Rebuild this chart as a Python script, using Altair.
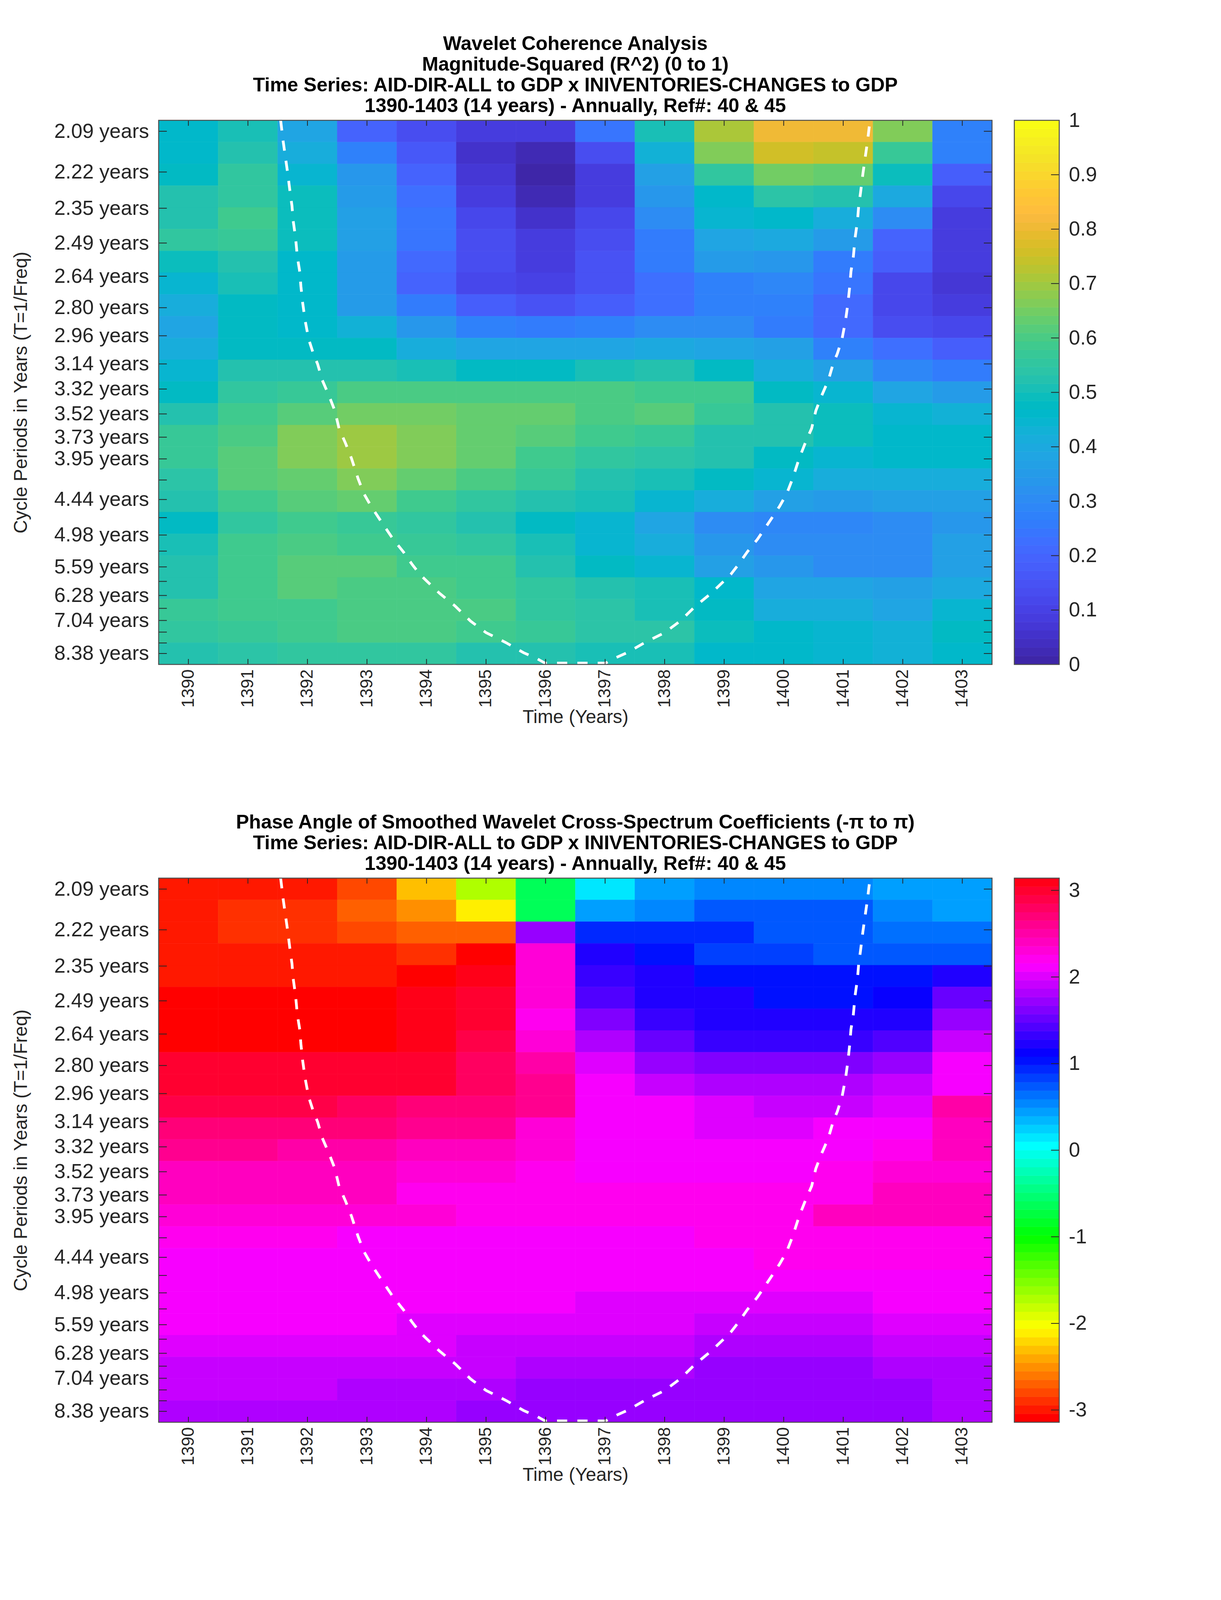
import colorsys
import math
import numpy as np
import pandas as pd
import altair as alt

years = list(range(1390, 1404))
tick_periods = [2.09, 2.22, 2.35, 2.49, 2.64, 2.80, 2.96, 3.14, 3.32, 3.52, 3.73, 3.95, 4.19, 4.44,
                4.70, 4.98, 5.27, 5.59, 5.92, 6.28, 6.65, 7.04, 7.46, 7.90, 8.38]
unlabeled = ["4.19", "4.70", "5.27", "5.92", "6.65", "7.46", "7.90"]

rsq_rows = [
    [.46, .50, .38, .20, .13, .08, .08, .24, .50, .71, .81, .81, .67, .28],
    [.46, .53, .41, .28, .17, .06, .02, .13, .43, .66, .75, .74, .57, .28],
    [.48, .55, .45, .33, .19, .07, .01, .08, .37, .56, .65, .64, .49, .18],
    [.52, .56, .49, .35, .23, .08, .02, .09, .33, .46, .54, .52, .40, .11],
    [.53, .59, .49, .36, .24, .12, .05, .11, .31, .44, .46, .41, .30, .09],
    [.55, .57, .49, .36, .24, .13, .08, .14, .26, .39, .40, .35, .20, .08],
    [.49, .53, .46, .35, .21, .13, .09, .15, .26, .35, .34, .26, .18, .08],
    [.45, .50, .46, .35, .20, .12, .10, .15, .23, .28, .29, .24, .12, .07],
    [.41, .47, .46, .35, .25, .18, .15, .18, .23, .27, .27, .21, .11, .09],
    [.39, .47, .46, .43, .33, .27, .26, .28, .30, .31, .26, .21, .13, .11],
    [.41, .47, .47, .47, .42, .38, .38, .38, .40, .38, .36, .28, .22, .18],
    [.44, .52, .53, .53, .51, .48, .48, .51, .52, .47, .42, .36, .29, .26],
    [.47, .56, .57, .60, .60, .60, .60, .60, .58, .58, .48, .45, .39, .35],
    [.53, .58, .62, .65, .65, .63, .63, .60, .62, .57, .52, .49, .45, .43],
    [.57, .60, .67, .69, .67, .64, .61, .58, .57, .53, .52, .49, .46, .46],
    [.57, .62, .67, .69, .67, .64, .59, .55, .54, .52, .48, .45, .46, .46],
    [.54, .61, .64, .66, .64, .60, .57, .53, .51, .47, .44, .42, .41, .41],
    [.53, .59, .61, .63, .59, .56, .53, .50, .45, .41, .36, .35, .36, .37],
    [.48, .56, .58, .57, .56, .52, .48, .45, .38, .31, .29, .29, .30, .33],
    [.51, .58, .60, .58, .57, .55, .50, .45, .42, .34, .31, .30, .30, .36],
    [.52, .58, .61, .62, .59, .58, .52, .48, .45, .37, .34, .31, .31, .37],
    [.53, .59, .61, .60, .60, .58, .55, .52, .50, .46, .38, .38, .37, .40],
    [.57, .58, .59, .60, .60, .60, .56, .54, .50, .47, .42, .41, .39, .44],
    [.56, .57, .58, .60, .60, .58, .57, .54, .54, .49, .46, .44, .43, .47],
    [.53, .54, .55, .55, .55, .53, .53, .51, .50, .46, .46, .44, .43, .46],
]

phase_rows = [
    [-3.04, -3.04, -3.04, -2.80, -2.35, -1.72, -.63, .12, .44, .57, .57, .57, .44, .44],
    [-3.04, -2.90, -2.90, -2.71, -2.55, -2.15, -.63, .40, .52, .69, .69, .69, .57, .44],
    [-3.04, -2.90, -2.90, -2.80, -2.71, -2.71, 1.75, .90, .90, .90, .78, .78, .65, .65],
    [-3.04, -3.04, -3.04, -3.04, -2.90, -3.10, 2.28, 1.18, 1.00, .85, .85, .78, .78, .78],
    [-3.04, -3.04, -3.04, -3.04, -3.10, 3.10, 2.28, 1.31, 1.18, 1.05, 1.00, 1.00, 1.00, 1.18],
    [-3.10, -3.10, -3.10, -3.10, 3.10, 3.00, 2.31, 1.42, 1.25, 1.18, 1.05, 1.05, 1.13, 1.52],
    [-3.10, -3.10, -3.10, -3.10, 3.10, 3.00, 2.21, 1.62, 1.33, 1.25, 1.25, 1.25, 1.25, 1.72],
    [-3.10, -3.10, -3.10, -3.10, 3.10, 2.90, 2.31, 1.82, 1.52, 1.33, 1.33, 1.33, 1.42, 1.91],
    [3.00, 3.00, 3.00, 3.00, 3.00, 2.80, 2.50, 2.01, 1.72, 1.62, 1.62, 1.62, 1.72, 2.11],
    [3.00, 3.00, 3.00, 3.00, 3.00, 2.80, 2.60, 2.11, 1.91, 1.82, 1.82, 1.82, 1.91, 2.11],
    [2.90, 2.90, 2.90, 2.80, 2.70, 2.70, 2.60, 2.11, 2.11, 2.01, 1.91, 1.91, 2.01, 2.50],
    [2.70, 2.70, 2.70, 2.70, 2.60, 2.60, 2.31, 2.11, 2.11, 2.01, 2.01, 2.11, 2.11, 2.40],
    [2.60, 2.60, 2.50, 2.50, 2.40, 2.40, 2.31, 2.11, 2.11, 2.11, 2.11, 2.11, 2.21, 2.40],
    [2.40, 2.40, 2.40, 2.40, 2.31, 2.31, 2.21, 2.11, 2.11, 2.11, 2.11, 2.21, 2.31, 2.31],
    [2.40, 2.40, 2.40, 2.40, 2.21, 2.21, 2.21, 2.21, 2.21, 2.21, 2.21, 2.21, 2.40, 2.40],
    [2.31, 2.31, 2.31, 2.31, 2.31, 2.21, 2.21, 2.21, 2.21, 2.21, 2.21, 2.40, 2.40, 2.40],
    [2.21, 2.21, 2.21, 2.11, 2.11, 2.11, 2.11, 2.11, 2.11, 2.21, 2.21, 2.21, 2.21, 2.21],
    [2.11, 2.11, 2.11, 2.11, 2.11, 2.11, 2.11, 2.11, 2.11, 2.11, 2.21, 2.21, 2.21, 2.21],
    [2.11, 2.11, 2.11, 2.11, 2.11, 2.11, 2.11, 2.11, 2.11, 2.11, 2.11, 2.11, 2.11, 2.11],
    [2.11, 2.11, 2.11, 2.11, 2.11, 2.11, 2.11, 2.01, 2.01, 2.01, 2.01, 2.01, 2.11, 2.11],
    [2.11, 2.11, 2.11, 2.11, 2.01, 2.01, 2.01, 2.01, 2.01, 1.91, 1.91, 1.91, 2.01, 2.01],
    [2.01, 2.01, 2.01, 2.01, 2.01, 1.91, 1.91, 1.91, 1.91, 1.82, 1.82, 1.82, 1.91, 1.91],
    [1.91, 1.91, 1.91, 1.91, 1.91, 1.91, 1.82, 1.82, 1.82, 1.72, 1.72, 1.72, 1.82, 1.82],
    [1.91, 1.91, 1.91, 1.82, 1.82, 1.82, 1.72, 1.72, 1.72, 1.72, 1.72, 1.72, 1.72, 1.82],
    [1.82, 1.82, 1.82, 1.82, 1.82, 1.72, 1.72, 1.72, 1.72, 1.72, 1.72, 1.72, 1.72, 1.82],
]

coi_year = [1391.55, 1391.59, 1391.63, 1391.67, 1391.71, 1391.74, 1391.76, 1391.80, 1391.83, 1391.87,
            1391.89, 1391.92, 1391.96, 1392.02, 1392.10, 1392.17, 1392.25, 1392.36, 1392.46, 1392.53,
            1392.64, 1392.74, 1392.85, 1392.95, 1393.07, 1393.24, 1393.44, 1393.61, 1393.76, 1393.89,
            1394.00, 1394.22, 1394.48, 1394.74, 1395.00, 1395.33, 1395.63, 1395.86, 1395.99,
            1397.01, 1397.14, 1397.37, 1397.67, 1398.00, 1398.26, 1398.52, 1398.78, 1399.00, 1399.11,
            1399.24, 1399.39, 1399.56, 1399.76, 1399.93, 1400.05, 1400.15, 1400.26, 1400.36, 1400.47,
            1400.54, 1400.64, 1400.75, 1400.83, 1400.90, 1400.98, 1401.04, 1401.08, 1401.11, 1401.13,
            1401.17, 1401.20, 1401.24, 1401.26, 1401.29, 1401.33, 1401.37, 1401.41, 1401.45]
coi_period = [2.058, 2.118, 2.171, 2.227, 2.294, 2.341, 2.398, 2.467, 2.550, 2.618,
              2.689, 2.775, 2.869, 2.980, 3.073, 3.14, 3.255, 3.369, 3.493, 3.647,
              3.79, 3.945, 4.173, 4.365, 4.535, 4.762, 5.053, 5.283, 5.54, 5.757,
              5.907, 6.223, 6.579, 7.062, 7.48, 7.88, 8.34, 8.643, 8.87,
              8.87, 8.643, 8.34, 7.88, 7.48, 7.062, 6.579, 6.223, 5.907, 5.757,
              5.54, 5.283, 5.053, 4.762, 4.535, 4.365, 4.173, 3.945, 3.79, 3.647,
              3.493, 3.369, 3.255, 3.14, 3.073, 2.980, 2.869, 2.775, 2.689, 2.618,
              2.550, 2.467, 2.398, 2.341, 2.294, 2.227, 2.171, 2.118, 2.058]

parula = [
    (.2422, .1504, .6603), (.2504, .1650, .7076), (.2578, .1818, .7511), (.2647, .1978, .7952),
    (.2706, .2147, .8364), (.2751, .2342, .8710), (.2783, .2559, .8991), (.2803, .2782, .9221),
    (.2813, .3006, .9414), (.2810, .3228, .9579), (.2795, .3447, .9717), (.2760, .3667, .9829),
    (.2699, .3892, .9906), (.2602, .4123, .9952), (.2440, .4358, .9988), (.2206, .4603, .9973),
    (.1963, .4847, .9892), (.1834, .5074, .9798), (.1786, .5289, .9682), (.1764, .5499, .9520),
    (.1687, .5703, .9359), (.1540, .5902, .9218), (.1460, .6091, .9079), (.1380, .6276, .8973),
    (.1248, .6459, .8883), (.1113, .6635, .8763), (.0952, .6798, .8598), (.0689, .6948, .8394),
    (.0297, .7082, .8163), (.0036, .7203, .7917), (.0067, .7312, .7660), (.0433, .7411, .7394),
    (.0964, .7500, .7120), (.1408, .7584, .6842), (.1717, .7670, .6554), (.1938, .7758, .6251),
    (.2161, .7843, .5923), (.2470, .7918, .5567), (.2906, .7973, .5188), (.3406, .8008, .4789),
    (.3909, .8029, .4354), (.4456, .8024, .3909), (.5044, .7993, .3480), (.5616, .7942, .3045),
    (.6174, .7876, .2612), (.6720, .7793, .2227), (.7242, .7698, .1910), (.7738, .7598, .1646),
    (.8203, .7498, .1535), (.8634, .7406, .1596), (.9035, .7330, .1774), (.9393, .7288, .2100),
    (.9728, .7298, .2394), (.9956, .7434, .2371), (.9970, .7659, .2199), (.9952, .7861, .1991),
    (.9892, .8136, .1885), (.9786, .8386, .1766), (.9676, .8639, .1643), (.9610, .8890, .1537),
    (.9597, .9135, .1423), (.9628, .9373, .1265), (.9691, .9606, .1064), (.9769, .9839, .0805),
]


def to_hex(rgb):
    return "#%02x%02x%02x" % tuple(int(round(c * 255)) for c in rgb)


parula_hex = [to_hex(c) for c in parula]
hsv_hex = [to_hex(colorsys.hsv_to_rgb(i / 64, 1, 1)) for i in range(64)]

W, H = 2133, 1393
CB_W = 115
TICK_X = 14
TICK_Y = 21
F_TOP, F_BOTTOM = 0.4860, 0.1118
FONT = "Liberation Sans"
INK = "#262626"
FRAME = "#4d4d4d"
XTICK_FS = 44
YTICK_FS = 52
LABEL_FS = 48
TITLE_FS = 50

row_edges = np.linspace(F_TOP, F_BOTTOM, 26)
tick_freqs = [1 / t for t in tick_periods]
years_df = pd.DataFrame({"year": years})
freqs_df = pd.DataFrame({"f": tick_freqs})
coi_df = pd.DataFrame({"year": coi_year, "f": [1 / t for t in coi_period], "i": range(len(coi_year))})
ylab = ("indexof(%s, format(1/datum.value,'.2f')) < 0 ? format(1/datum.value,'.2f') + ' years' : ''"
        % str(unlabeled))

xscale = alt.Scale(domain=[1389.5, 1403.5], nice=False, zero=False)
yscale = alt.Scale(domain=[F_BOTTOM, F_TOP], nice=False, zero=False)


def frame(w):
    return alt.Chart(pd.DataFrame({"a": [0]})).mark_rect(
        fillOpacity=0, stroke=FRAME, strokeWidth=2.5
    ).encode(x=alt.value(0), x2=alt.value(w), y=alt.value(0), y2=alt.value(H))


def panel(rows, cscale, title, cbar_ticks, cdomain):
    recs = []
    for r, row in enumerate(rows):
        for c, v in enumerate(row):
            recs.append({"x0": years[c] - .5, "x1": years[c] + .5,
                         "y0": row_edges[r + 1], "y1": row_edges[r], "v": v})
    cells = alt.Chart(pd.DataFrame(recs)).mark_rect(strokeWidth=0.6).encode(
        x=alt.X("x0:Q", scale=xscale, title="Time (Years)", axis=alt.Axis(
            values=years, labelExpr="'' + datum.value", labelAngle=270, tickSize=0, domain=False, grid=False,
            labelPadding=12, labelFontSize=XTICK_FS, labelFont=FONT, labelColor=INK, labelOverlap=False,
            labelLimit=500, maxExtent=500, titleFontSize=LABEL_FS, titleFont=FONT, titleFontWeight="normal",
            titleColor=INK, titlePadding=2)),
        x2="x1:Q",
        y=alt.Y("y0:Q", scale=yscale, title="Cycle Periods in Years (T=1/Freq)", axis=alt.Axis(
            values=tick_freqs, labelExpr=ylab, tickSize=0, domain=False, grid=False,
            labelPadding=25, labelFontSize=YTICK_FS, labelFont=FONT, labelColor=INK, labelOverlap=False,
            labelBound=False, labelFlush=False, labelLimit=500, maxExtent=500,
            titleFontSize=LABEL_FS, titleFont=FONT, titleFontWeight="normal", titleColor=INK, titlePadding=60)),
        y2="y1:Q",
        color=alt.Color("v:Q", scale=cscale, legend=None),
        stroke=alt.Stroke("v:Q", scale=cscale, legend=None),
    )
    coi = alt.Chart(coi_df).mark_line(color="white", strokeWidth=7, strokeDash=[26, 26]).encode(
        x=alt.X("year:Q", scale=xscale), y=alt.Y("f:Q", scale=yscale), order="i:Q")
    top = alt.Chart(years_df).mark_rule(color=INK, strokeWidth=2).encode(
        x=alt.X("year:Q", scale=xscale), y=alt.value(0), y2=alt.value(TICK_X))
    bottom = alt.Chart(years_df).mark_rule(color=INK, strokeWidth=2).encode(
        x=alt.X("year:Q", scale=xscale), y=alt.value(H - TICK_X), y2=alt.value(H))
    left = alt.Chart(freqs_df).mark_rule(color=INK, strokeWidth=2).encode(
        y=alt.Y("f:Q", scale=yscale), x=alt.value(0), x2=alt.value(TICK_Y))
    right = alt.Chart(freqs_df).mark_rule(color=INK, strokeWidth=2).encode(
        y=alt.Y("f:Q", scale=yscale), x=alt.value(W - TICK_Y), x2=alt.value(W))
    main = alt.layer(cells, coi, top, bottom, left, right, frame(W)).properties(
        width=W, height=H,
        title=alt.TitleParams(text=title, font=FONT, fontSize=TITLE_FS, fontWeight="bold", color="black",
                              lineHeight=53, anchor="middle", offset=-3))

    lo, hi = cdomain
    edges = np.linspace(lo, hi, 65)
    cb_df = pd.DataFrame({"y0": edges[:-1], "y1": edges[1:], "v": (edges[:-1] + edges[1:]) / 2})
    bscale = alt.Scale(domain=[lo, hi], nice=False, zero=False)
    bar = alt.Chart(cb_df).mark_rect(strokeWidth=0.6).encode(
        x=alt.value(0), x2=alt.value(CB_W),
        y=alt.Y("y0:Q", scale=bscale, title=None, axis=alt.Axis(
            orient="right", values=cbar_ticks, labelExpr="'' + datum.value", tickSize=0, domain=False, grid=False,
            labelPadding=24, labelFontSize=YTICK_FS, labelFont=FONT, labelColor=INK, labelOverlap=False,
            labelBound=False, labelFlush=False)),
        y2="y1:Q",
        color=alt.Color("v:Q", scale=cscale, legend=None),
        stroke=alt.Stroke("v:Q", scale=cscale, legend=None),
    )
    cb_ticks = alt.Chart(pd.DataFrame({"t": cbar_ticks})).mark_rule(color=INK, strokeWidth=2).encode(
        y=alt.Y("t:Q", scale=bscale), x=alt.value(CB_W - TICK_Y), x2=alt.value(CB_W))
    cbar = alt.layer(bar, cb_ticks, frame(CB_W)).properties(width=CB_W, height=H)
    return alt.hconcat(main, cbar, spacing=57, bounds="flush").resolve_scale(
        color="independent", stroke="independent", y="independent", x="independent")


top_panel = panel(
    rsq_rows,
    alt.Scale(type="quantize", domain=[0, 1], range=parula_hex),
    ["Wavelet Coherence Analysis", "Magnitude-Squared (R^2) (0 to 1)",
     "Time Series: AID-DIR-ALL to GDP x INIVENTORIES-CHANGES to GDP",
     "1390-1403 (14 years) - Annually, Ref#: 40 & 45"],
    [0, .1, .2, .3, .4, .5, .6, .7, .8, .9, 1],
    (0, 1),
)
bottom_panel = panel(
    phase_rows,
    alt.Scale(type="quantize", domain=[-math.pi, math.pi], range=hsv_hex),
    ["Phase Angle of Smoothed Wavelet Cross-Spectrum Coefficients (-π to π)",
     "Time Series: AID-DIR-ALL to GDP x INIVENTORIES-CHANGES to GDP",
     "1390-1403 (14 years) - Annually, Ref#: 40 & 45"],
    [-3, -2, -1, 0, 1, 2, 3],
    (-math.pi, math.pi),
)

chart = alt.vconcat(top_panel, bottom_panel, spacing=220).resolve_scale(
    color="independent", stroke="independent", y="independent", x="independent"
).properties(
    padding={"left": 22, "top": 80, "right": 0, "bottom": 0},
    background="white",
).configure_view(stroke=None)

chart.save("out.html", embed_options={"renderer": "svg", "actions": False})
